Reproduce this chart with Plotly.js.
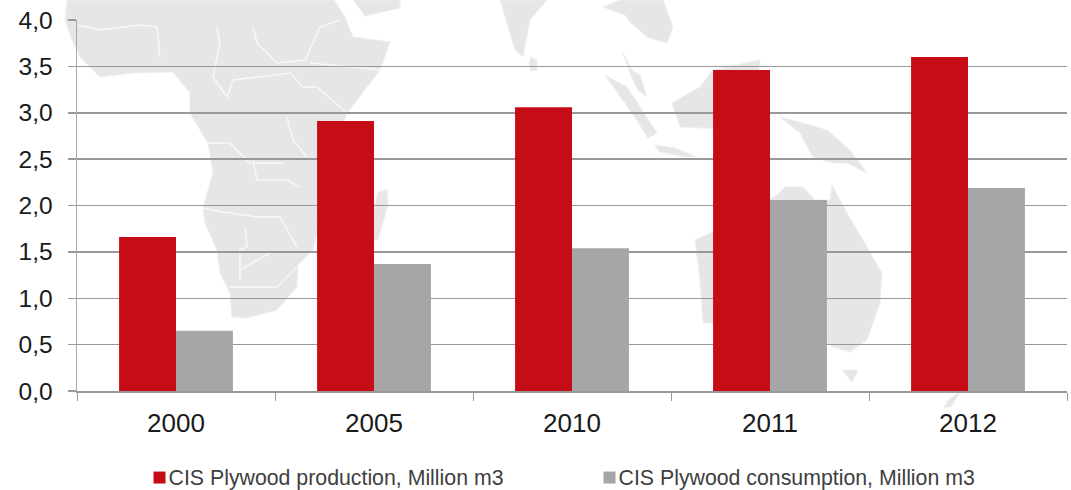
<!DOCTYPE html>
<html><head><meta charset="utf-8">
<script src="https://cdn.plot.ly/plotly-3.0.1.min.js"></script>
<style>html,body{margin:0;padding:0;background:#fff}#c{width:1071px;height:490px}</style>
</head><body><div id="c"></div>
<script>
const categories = ['2000','2005','2010','2011','2012'];
const production = [1.66,2.91,3.06,3.46,3.60];
const consumption = [0.65,1.37,1.54,2.06,2.19];
const yTicks = [0,0.5,1,1.5,2,2.5,3,3.5,4];
const productionName = 'CIS Plywood production, Million m3';
const consumptionName = 'CIS Plywood consumption, Million m3';

// Decorative background map (page pixels), not data
const W=1071,H=490,L=77,T=20,R=4,B=99;
const land = [
 [[67,0],[65,20],[72,40],[80,57],[100,77],[133,73],[173,72],[190,93],[190,113],[208,143],[213,173],[203,207],[205,223],[217,250],[220,273],[230,293],[232,317],[247,318],[277,310],[297,287],[298,265],[313,250],[318,227],[317,203],[330,160],[347,113],[380,70],[390,42],[353,37],[345,17],[334,0]],
 [[378,192],[387,190],[388,205],[378,240],[372,240],[372,215]],
 [[353,0],[400,0],[400,8],[365,16]],
 [[500,0],[547,0],[530,20],[523,57],[515,50],[507,23]],
 [[531,57],[537,60],[537,70],[531,71],[529,63]],
 [[603,7],[620,0],[663,0],[673,27],[667,43],[647,37],[630,22],[625,15]],
 [[623,53],[632,70],[640,75],[647,97],[638,90],[632,78]],
 [[605,75],[627,87],[657,133],[648,138],[630,110]],
 [[655,145],[675,148],[697,157],[680,156],[660,152]],
 [[672,103],[700,87],[713,70],[760,60],[750,130],[703,128],[680,127]],
 [[780,117],[803,123],[827,130],[850,150],[867,173],[847,163],[833,163],[813,157],[800,133]],
 [[695,240],[713,232],[777,195],[785,187],[803,187],[815,200],[830,200],[832,185],[847,213],[863,240],[882,273],[880,303],[867,340],[850,352],[833,347],[790,320],[740,322],[703,323],[700,280]],
 [[842,370],[858,370],[852,382]],
 [[960,392],[948,400],[944,408],[952,406]]
];
const borders = [
 [[78,25],[100,30],[140,25],[157,27],[160,57]],
 [[217,27],[220,43],[213,77],[227,97],[233,80],[290,73],[303,87],[317,87],[347,113]],
 [[253,27],[257,43],[277,63],[305,60],[320,27],[340,20]],
 [[207,143],[230,143],[250,163],[283,163]],
 [[287,117],[293,140],[307,157]],
 [[253,160],[257,180],[287,180],[300,187]],
 [[310,63],[380,70]],
 [[245,227],[247,247],[240,250],[240,280]],
 [[203,208],[223,212],[257,217],[280,217],[297,247]],
 [[240,270],[270,253]],
 [[230,287],[277,287],[297,267]]
];
const fx = x => (x-L)/(W-L-R), fy = y => 1-(y-T)/(H-T-B);
const toPath = (p,close) => p.map((q,i)=>(i?'L':'M')+fx(q[0]).toFixed(4)+' '+fy(q[1]).toFixed(4)).join(' ')+(close?' Z':'');
const shapes = land.map(p=>({type:'path',xref:'paper',yref:'paper',layer:'below',path:toPath(p,true),fillcolor:'#e6e6e6',line:{width:1,color:'#efefef'}}))
 .concat(borders.map(p=>({type:'path',xref:'paper',yref:'paper',layer:'below',path:toPath(p,false),line:{color:'#f8f8f8',width:1.5}})));

const data = [
 {type:'bar',name:productionName,x:categories,y:production,marker:{color:'#c60c17'}},
 {type:'bar',name:consumptionName,x:categories,y:consumption,marker:{color:'#a6a6a6'}}
];
const layout = {
 width:W,height:H,autosize:false,
 margin:{l:L,r:R,t:T,b:B,pad:0},
 paper_bgcolor:'#fff',plot_bgcolor:'rgba(0,0,0,0)',
 barmode:'group',bargap:0.425,bargroupgap:0,
 separators:',.',
 font:{family:'"Liberation Sans",Arial,sans-serif',color:'#1a1a1a'},
 xaxis:{type:'category',range:[-0.5,4.5],tickson:'boundaries',ticks:'outside',ticklen:8,tickwidth:1,tickcolor:'#999',
  showline:true,linecolor:'#999',linewidth:1.5,showgrid:false,tickfont:{size:26},ticklabelstandoff:8,fixedrange:true},
 yaxis:{range:[0,4],tickmode:'array',tickvals:yTicks,tickformat:'.1f',ticks:'outside',ticklen:8,tickwidth:1.5,tickcolor:'#999',
  showline:true,linecolor:'#aaa',linewidth:1.5,showgrid:true,gridcolor:'#999',gridwidth:1.5,zeroline:false,tickfont:{size:24.5},ticklabelstandoff:10,fixedrange:true},
 legend:{orientation:'h',xref:'container',yref:'container',x:0.12,y:0.069,xanchor:'left',yanchor:'top',
  font:{size:21.3,color:'#404040'},entrywidth:405,entrywidthmode:'pixels',itemwidth:30,bgcolor:'rgba(0,0,0,0)',traceorder:'normal'},
 shapes:shapes,showlegend:true
};
Plotly.newPlot('c',data,layout,{displayModeBar:false,staticPlot:true}).then(()=>{
 document.querySelectorAll('.legend .legendsymbols').forEach(g=>g.setAttribute('transform','translate(11,1)'));
 const box=document.querySelector('.legend .scrollbox');
 if(box){box.removeAttribute('clip-path');box.style.clipPath='none';}
 const lg=document.querySelector('.legend');
 if(lg){lg.removeAttribute('clip-path');lg.style.clipPath='none';}
});
</script></body></html>
